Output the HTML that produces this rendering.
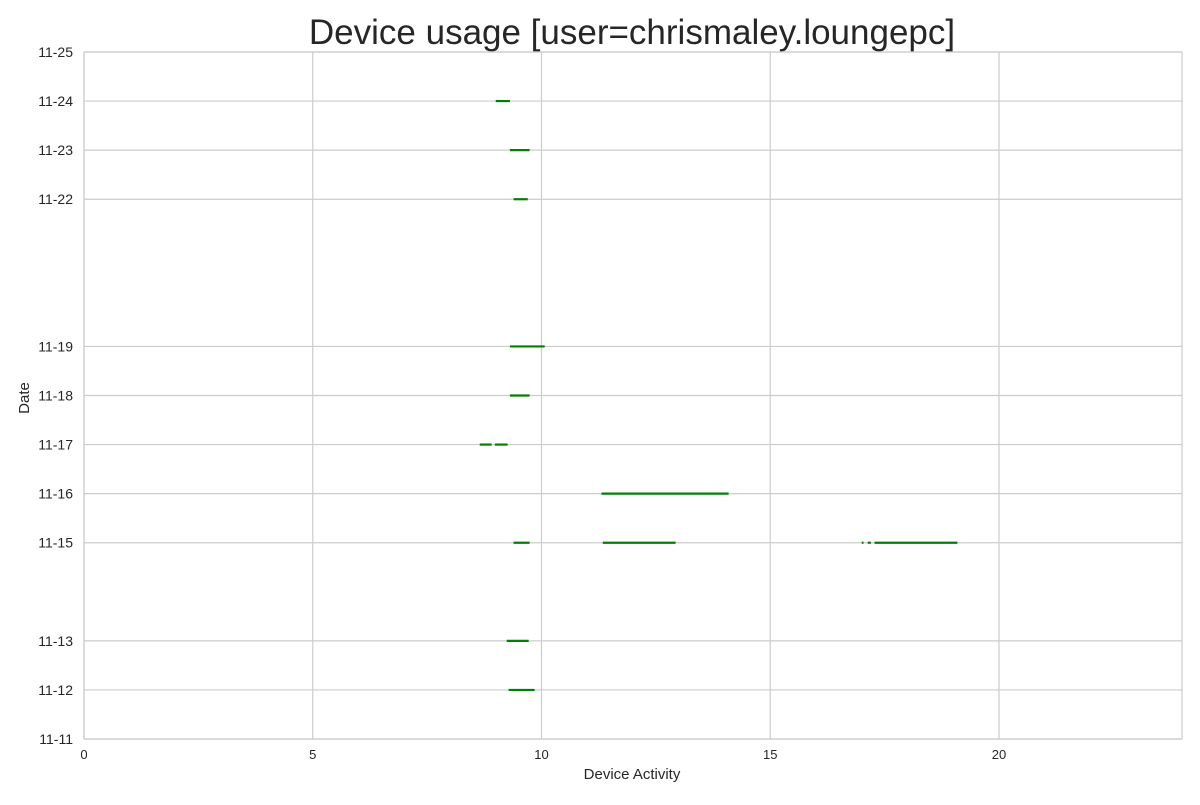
<!DOCTYPE html>
<html><head><meta charset="utf-8"><style>
body{margin:0;background:#fff;font-family:"Liberation Sans",sans-serif;}
svg text{font-family:"Liberation Sans",sans-serif;fill:#262626;}
</style></head><body>
<svg width="1200" height="800" id="chart">
<rect x="0" y="0" width="1200" height="800" fill="#fff"/>
<text x="632" y="44" font-size="35" text-anchor="middle">Device usage [user=chrismaley.loungepc]</text>
<text x="632" y="779" font-size="15" text-anchor="middle">Device Activity</text>
<text x="29" y="398" font-size="15" text-anchor="middle" transform="rotate(-90 29 398)">Date</text>
<g id="grid"></g><g id="marks"></g>
<rect x="84" y="52" width="1098" height="687" fill="none" stroke="#ccc" stroke-width="1.2"/>
</svg>
<script>
const xTicks=[0,5,10,15,20];
const dateLabels=["11-25","11-24","11-23","11-22","11-19","11-18","11-17","11-16","11-15","11-13","11-12","11-11"];
const dateOffsets=[14,13,12,11,8,7,6,5,4,2,1,0];
const segDates=[13,12,11,8,7,6,6,5,4,4,4,4,4,2,1,0];
const segStarts=[9.0,9.31,9.39,9.31,9.31,8.65,8.98,11.31,9.39,11.34,17.0,17.13,17.28,9.24,9.28,11.71];
const segEnds=[9.31,9.74,9.7,10.07,9.74,8.91,9.26,14.09,9.74,12.93,17.04,17.2,19.09,9.72,9.85,11.73];
const NS="http://www.w3.org/2000/svg";
const X=v=>84+v*(1098/24);
const Y=d=>739-d*(687/14);
const grid=document.getElementById('grid'),marks=document.getElementById('marks');
function mk(tag,attrs,parent){const e=document.createElementNS(NS,tag);for(const k in attrs)e.setAttribute(k,attrs[k]);parent.appendChild(e);return e;}
xTicks.forEach(t=>{
  const l=mk('line',{x1:X(t),x2:X(t),y1:52,y2:739,stroke:'#ccc','stroke-width':1.2},grid);
  
  
  const tx=mk('text',{x:X(t),y:759,'font-size':13,'text-anchor':'middle'},grid);
  tx.textContent=t;
  
  
});
dateLabels.forEach((lab,i)=>{
  const y=Y(dateOffsets[i]);
  const l=mk('line',{x1:84,x2:1182,y1:y,y2:y,stroke:'#ccc','stroke-width':1.2},grid);
  
  
  const tx=mk('text',{x:73,y:y+5,'font-size':14,'text-anchor':'end'},grid);
  tx.textContent=lab;
  
  
});
segDates.forEach((d,i)=>{
  const y=Y(d);
  const l=mk('line',{x1:X(segStarts[i]),x2:X(segEnds[i]),y1:y,y2:y,stroke:'#008000','stroke-width':d===0?1:2.2},marks);
  
  
});
</script>
</body></html>
